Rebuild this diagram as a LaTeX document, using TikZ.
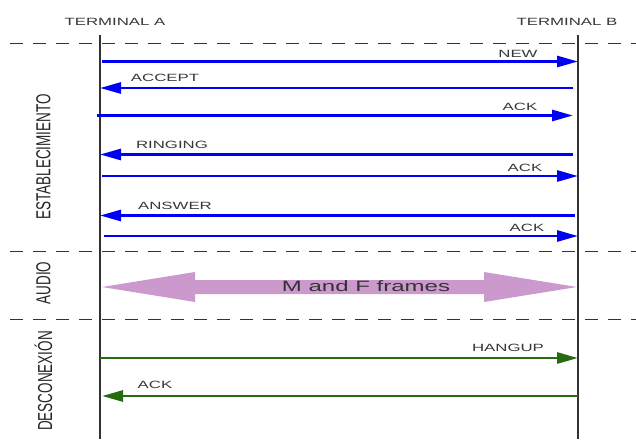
\documentclass[tikz,border=0pt]{standalone}
\usepackage{fontspec}
\setmainfont{Liberation Sans}
\usepackage{graphicx}
\usetikzlibrary{arrows.meta}
\definecolor{msgblue}{RGB}{0,0,245}
\definecolor{msggreen}{RGB}{38,108,14}
\definecolor{audiopink}{RGB}{204,153,204}
\definecolor{linegray}{RGB}{50,50,50}
\definecolor{textgray}{RGB}{55,55,55}
\newcommand{\wide}[1]{\scalebox{1.6}[1]{#1}}
\newcommand{\tall}[1]{\scalebox{1}[1.5]{#1}}
\tikzset{
  lifeline/.style={linegray, line width=1.4pt},
  phase/.style={linegray, line width=1.2pt, dash pattern=on 13pt off 10pt},
  msg/.style={line width=2.7pt, -{Triangle[length=21pt, width=11pt]}},
  msglabel/.style={text=textgray, inner sep=0pt, font=\fontsize{10.5}{12}\selectfont},
  phaselabel/.style={rotate=90, text=black!85, inner sep=0pt, font=\fontsize{13.5}{15}\selectfont},
}

\begin{document}
\begin{tikzpicture}[x=1pt, y=-1pt]
\useasboundingbox (0,0) rectangle (636,439);

% terminals and lifelines
\node[msglabel] (ta) at (115,22) {\wide{TERMINAL A}};
\node[msglabel] (tb) at (567,22) {\wide{TERMINAL B}};
\coordinate (ta top) at (100,35);
\coordinate (ta bot) at (100,439);
\coordinate (tb top) at (578,35);
\coordinate (tb bot) at (578,439);
\draw[lifeline] (ta top) -- (ta bot);
\draw[lifeline] (tb top) -- (tb bot);

% phase separators
\coordinate (p1 l) at (10,43.5);  \coordinate (p1 r) at (636,43.5);
\coordinate (p2 l) at (10,251.5); \coordinate (p2 r) at (636,251.5);
\coordinate (p3 l) at (10,319.5); \coordinate (p3 r) at (636,319.5);
\draw[phase] (p1 l) -- (p1 r);
\draw[phase] (p2 l) -- (p2 r);
\draw[phase] (p3 l) -- (p3 r);

\node[phaselabel] (est) at (43.5,157) {\tall{ESTABLECIMIENTO}};
\node[phaselabel] (aud) at (43.5,283) {\tall{AUDIO}};
\node[phaselabel] (desc) at (43.5,381) {\tall{DESCONEXIÓN}};

% establecimiento
\coordinate (a1) at (102,61.5);  \coordinate (b1) at (578,61.5);
\coordinate (a2) at (100,88);    \coordinate (b2) at (573,88);
\coordinate (a3) at (97,115.5);  \coordinate (b3) at (573,115.5);
\coordinate (a4) at (100,154.5); \coordinate (b4) at (573,154.5);
\coordinate (a5) at (102,176);   \coordinate (b5) at (578,176);
\coordinate (a6) at (100,215.5); \coordinate (b6) at (575,215.5);
\coordinate (a7) at (104,236);   \coordinate (b7) at (578,236);
\draw[msg, msgblue] (a1) -- (b1);
\draw[msg, msgblue] (b2) -- (a2);
\draw[msg, msgblue] (a3) -- (b3);
\draw[msg, msgblue] (b4) -- (a4);
\draw[msg, msgblue] (a5) -- (b5);
\draw[msg, msgblue] (b6) -- (a6);
\draw[msg, msgblue] (a7) -- (b7);
\node[msglabel] (new) at (518,54) {\wide{NEW}};
\node[msglabel] (accept) at (165,78) {\wide{ACCEPT}};
\node[msglabel] (ack1) at (520,107) {\wide{ACK}};
\node[msglabel] (ringing) at (172,145) {\wide{RINGING}};
\node[msglabel] (ack2) at (525,168) {\wide{ACK}};
\node[msglabel] (answer) at (175,206) {\wide{ANSWER}};
\node[msglabel] (ack3) at (527,228) {\wide{ACK}};

% audio
\coordinate (m l) at (102,287);
\coordinate (m r) at (577,287);
\fill[audiopink] (m l) -- ++(93,-15) -- ++(0,8) -- ++(289,0) -- ++(0,-8)
  -- (m r) -- ++(-93,15) -- ++(0,-8) -- ++(-289,0) -- ++(0,8) -- cycle;
\node[text=black!80, inner sep=0pt, font=\fontsize{15}{17}\selectfont] (frames) at (366,286) {\wide{M and F frames}};

% desconexion
\coordinate (a8) at (100,358); \coordinate (b8) at (578,358);
\coordinate (a9) at (102,396); \coordinate (b9) at (578,396);
\draw[msg, msggreen] (a8) -- (b8);
\draw[msg, msggreen] (b9) -- (a9);
\node[msglabel] (hangup) at (508,348) {\wide{HANGUP}};
\node[msglabel] (ack4) at (155,385) {\wide{ACK}};
\end{tikzpicture}
\end{document}
